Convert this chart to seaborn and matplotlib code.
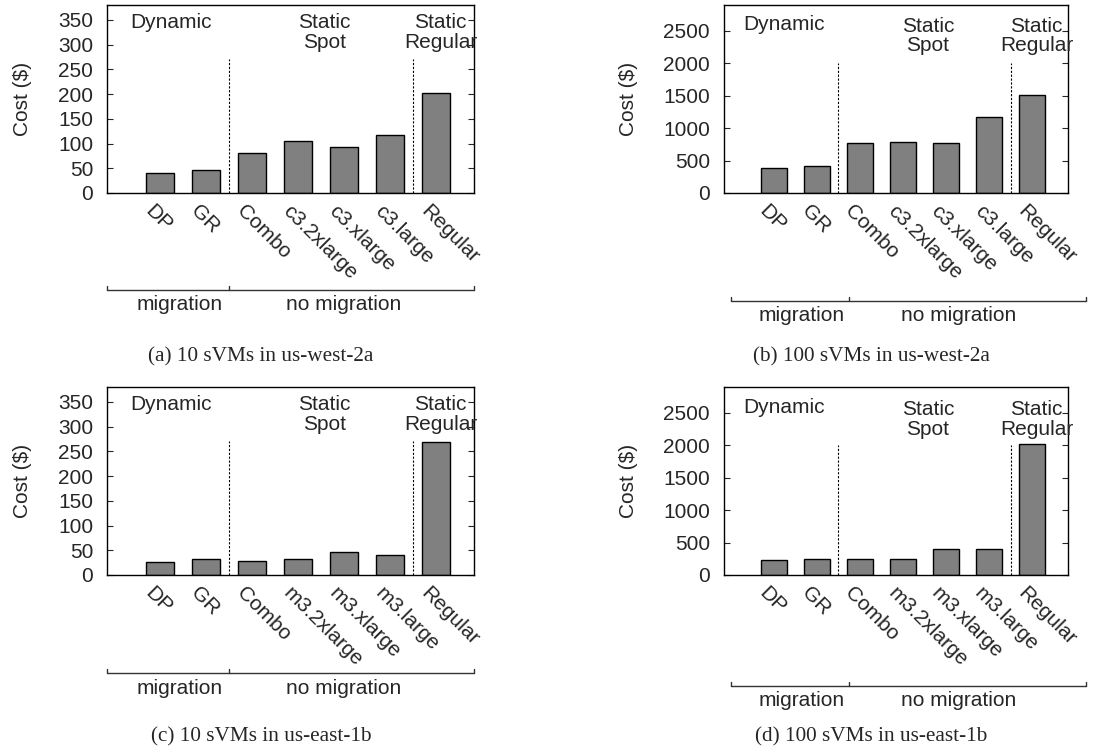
import numpy as np
import pandas as pd
import matplotlib
matplotlib.use('Agg')
import matplotlib.pyplot as plt
import matplotlib.transforms as mtransforms
from matplotlib.lines import Line2D
import seaborn as sns

# ── data ─────────────────────────────────────────────────────────
labels_west = ['DP', 'GR', 'Combo', 'c3.2xlarge', 'c3.xlarge', 'c3.large', 'Regular']
labels_east = ['DP', 'GR', 'Combo', 'm3.2xlarge', 'm3.xlarge', 'm3.large', 'Regular']

cost_a = [40, 47, 80, 105, 92, 117, 202]          # 10 sVMs, us-west-2a
cost_b = [381, 422, 766, 782, 777, 1168, 1512]    # 100 sVMs, us-west-2a
cost_c = [26, 32, 28, 32, 46, 41, 269]            # 10 sVMs, us-east-1b
cost_d = [236, 246, 246, 241, 400, 400, 2017]     # 100 sVMs, us-east-1b

captions = ['(a) 10 sVMs in us-west-2a', '(b) 100 sVMs in us-west-2a',
            '(c) 10 sVMs in us-east-1b', '(d) 100 sVMs in us-east-1b']

sns.set_style('white')
plt.rcParams['font.family'] = ['Liberation Sans', 'DejaVu Sans']
FS = 15

W, H = 1101, 752
fig = plt.figure(figsize=(W / 100, H / 100), dpi=100)


def add_axes_px(l, t, r, b):
    return fig.add_axes([l / W, 1 - b / H, (r - l) / W, (b - t) / H])


def fig_line(xs, ys, **kw):
    fig.add_artist(Line2D([x / W for x in xs], [1 - y / H for y in ys],
                          transform=fig.transFigure, **kw))


def fig_text(x, y, s, **kw):
    fig.text(x / W, 1 - y / H, s, ha='center', va='center', **kw)


def draw_panel(ax, labels, values, ymax, ystep, ydiv, ytxt, ylab_x):
    df = pd.DataFrame({'config': labels, 'cost': values})
    sns.barplot(data=df, x='config', y='cost', order=labels, ax=ax,
                color='#808080', saturation=1, width=0.6,
                edgecolor='black', linewidth=1.0)
    ax.set_xlim(-1.15, 6.83)
    ax.set_ylim(0, ymax)
    ax.set_yticks(np.arange(0, ymax, ystep))
    ax.tick_params(axis='y', direction='in', length=4, left=True, right=True,
                   labelsize=FS, pad=10)
    ax.tick_params(axis='x', length=0, labelsize=FS, pad=6)
    ax.set_xlabel('')
    ax.set_ylabel('Cost ($)', fontsize=FS, va='center')
    blend = mtransforms.blended_transform_factory(fig.transFigure, ax.transAxes)
    ax.yaxis.set_label_coords(ylab_x / W, 0.5, transform=blend)
    for sp in ax.spines.values():
        sp.set_visible(True)
        sp.set_color('black')
        sp.set_linewidth(1.0)

    offset = mtransforms.ScaledTranslation(-5 / 100, 0, fig.dpi_scale_trans)
    for lab in ax.get_xticklabels():
        lab.set_rotation(-45)
        lab.set_ha('left')
        lab.set_va('top')
        lab.set_rotation_mode('anchor')
        lab.set_transform(lab.get_transform() + offset)

    # group separators
    for xv in [1.5, 5.5]:
        ax.plot([xv, xv], [0, ydiv], color='black', lw=0.8,
                dashes=(2, 1.5))

    # group titles
    ax.text(0.25, ytxt[0], 'Dynamic', ha='center', va='center', fontsize=FS)
    ax.text(3.58, ytxt[1], 'Static\nSpot', ha='center', va='center',
            fontsize=FS, linespacing=1.05)
    ax.text(6.1, ytxt[1], 'Static\nRegular', ha='center', va='center',
            fontsize=FS, linespacing=1.05, clip_on=False)


ax_a = add_axes_px(107, 5, 474, 193)
ax_b = add_axes_px(724, 5, 1068, 193)
ax_c = add_axes_px(107, 387, 474, 575)
ax_d = add_axes_px(724, 387, 1068, 575)

draw_panel(ax_a, labels_west, cost_a, 380, 50, 270, (344, 325), 22)
draw_panel(ax_b, labels_west, cost_b, 2900, 500, 2000, (2600, 2420), 629)
draw_panel(ax_c, labels_east, cost_c, 380, 50, 270, (344, 325), 22)
draw_panel(ax_d, labels_east, cost_d, 2900, 500, 2000, (2580, 2400), 629)

# migration / no migration brackets
brackets = [
    # x0, xm, x1, y, text y, text x (mig, no mig)
    (107, 229, 474, 290, 305, 180, 344),
    (731, 849, 1086, 301, 315, 802, 959),
    (107, 229, 474, 673, 688, 180, 344),
    (731, 849, 1086, 686, 700, 802, 959),
]
for x0, xm, x1, y, ty, tx1, tx2 in brackets:
    fig_line([x0, x1], [y, y], color='#333333', lw=1.0)
    for xx in [x0, xm, x1]:
        fig_line([xx, xx], [y, y - 4], color='#333333', lw=1.0)
    fig_text(tx1, ty, 'migration', fontsize=FS)
    fig_text(tx2, ty, 'no migration', fontsize=FS)

# sub-figure captions
cap_pos = [(261, 357), (871, 357), (261, 737), (871, 737)]
for (cx, cy), cap in zip(cap_pos, captions):
    fig_text(cx, cy, cap, fontsize=15.3, family='Liberation Serif')

fig.savefig('out.png', dpi=100)
